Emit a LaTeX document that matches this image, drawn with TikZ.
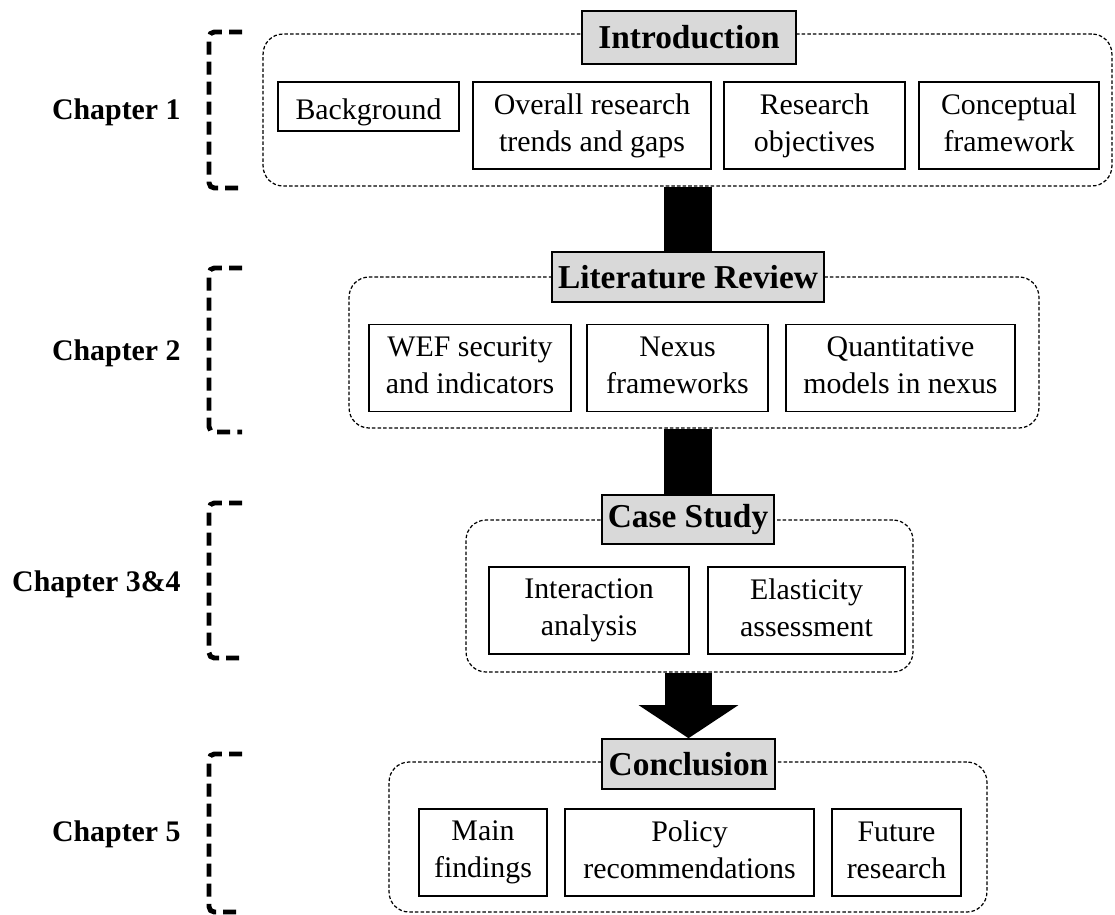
\documentclass[tikz,border=0pt]{standalone}
\usepackage{fontspec}
\setmainfont{Liberation Serif}
\usetikzlibrary{arrows.meta}
\definecolor{titlegray}{RGB}{217,217,217}
\newcommand\boxfont{\fontsize{17}{21}\selectfont}
\newcommand\ttlfont{\fontsize{19}{22}\selectfont\bfseries}
\newcommand\chapfont{\fontsize{17}{20.5}\selectfont\bfseries}
\newcommand\boxstrut{\rule[-3pt]{0pt}{21pt}}

\begin{document}
\begin{tikzpicture}[x=0.02cm,y=-0.02cm,
    grp/.style={draw, dash pattern=on 2pt off 1.2pt, line width=0.7pt, rounded corners=0.4cm, inner sep=0pt},
    ttl/.style={draw, fill=titlegray, line width=0.9pt, inner sep=0pt, font=\ttlfont},
    item/.style={draw, line width=0.7pt, inner sep=0pt, align=center, font=\boxfont, minimum height=1.74cm,
      execute at begin node=\boxstrut, execute at end node=\boxstrut},
    chap/.style={anchor=east, inner sep=0pt, font=\chapfont},
    brk/.style={line width=2.8pt, dash pattern=on 7.4pt off 4pt, rounded corners=3pt},
    shaft/.style={line width=27.3pt}]
  \useasboundingbox (0,0) rectangle (1115,914);

  % chapter labels with their brackets
  \node[chap] (ch1) at (181,112) {Chapter 1};
  \node[chap] (ch2) at (181,353) {Chapter 2};
  \node[chap] (ch3) at (181,584) {Chapter 3\&4};
  \node[chap] (ch5) at (181,834) {Chapter 5};
  \draw[brk] (242,32) -- (209,32) -- (209,188) -- (242,188);
  \draw[brk] (242,268) -- (209,268) -- (209,432) -- (242,432);
  \draw[brk] (242,503) -- (209,503) -- (209,658) -- (242,658);
  \draw[brk] (242,754) -- (209,754) -- (209,912) -- (242,912);

  % dashed frames
  \node[grp, minimum width=16.98cm, minimum height=3.04cm] (g1) at (687.5,110) {};
  \node[grp, minimum width=13.8cm, minimum height=3.02cm] (g2) at (694,352.5) {};
  \node[grp, minimum width=8.94cm, minimum height=3.04cm] (g3) at (689.5,596) {};
  \node[grp, minimum width=11.96cm, minimum height=3.0cm] (g5) at (688,837) {};

  % titles
  \node[ttl, minimum width=4.28cm, minimum height=1.06cm] (t1) at (689,37.5) {Introduction};
  \node[ttl, minimum width=5.44cm, minimum height=1.0cm] (t2) at (688,277) {Literature Review};
  \node[ttl, minimum width=3.44cm, minimum height=0.98cm] (t3) at (688,519.5) {Case Study};
  \node[ttl, minimum width=3.46cm, minimum height=1.0cm] (t5) at (688.5,764) {Conclusion};

  % chapter 1
  \node[item, minimum width=3.62cm, minimum height=0.98cm] (bg) at (368.5,106.5) {Background};
  \node[item, minimum width=4.76cm] (trend) at (592,125.5) {Overall research\\trends and gaps};
  \node[item, minimum width=3.62cm] (obj) at (814.5,125.5) {Research\\objectives};
  \node[item, minimum width=3.6cm] (frame) at (1009,125.5) {Conceptual\\framework};

  % chapter 2
  \node[item, minimum width=4.04cm] (wef) at (470,368) {WEF security\\and indicators};
  \node[item, minimum width=3.62cm] (nexus) at (677.5,368) {Nexus\\frameworks};
  \node[item, minimum width=4.58cm] (quant) at (900.5,368) {Quantitative\\models in nexus};

  % chapter 3&4
  \node[item, minimum width=4.0cm] (inter) at (589,610.5) {Interaction\\analysis};
  \node[item, minimum width=3.94cm] (elast) at (806.5,610.5) {Elasticity\\assessment};

  % chapter 5
  \node[item, minimum width=2.56cm] (main) at (483,852.5) {Main\\findings};
  \node[item, minimum width=4.98cm] (policy) at (689.5,852.5) {Policy\\recommendations};
  \node[item, minimum width=2.58cm] (future) at (896.5,852.5) {Future\\research};

  % arrows between chapters
  \draw[shaft] (t2.north |- g1.south) -- (t2.north);
  \draw[shaft] (t3.north |- g2.south) -- (t3.north);
  \draw[shaft, -{Triangle[width=55.8pt,length=18.8pt]}] (t5.north |- g3.south) -- (t5.north);
\end{tikzpicture}
\end{document}
